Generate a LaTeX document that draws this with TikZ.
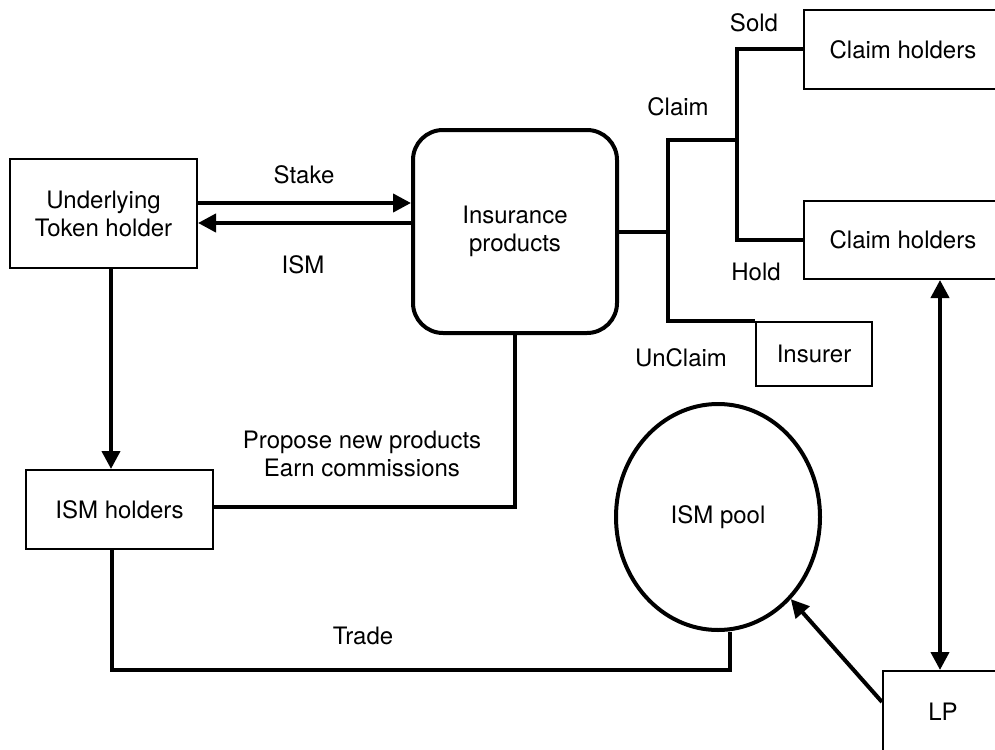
\documentclass[tikz,border=0pt]{standalone}
\usepackage{fontspec}
\setmainfont{TeX Gyre Heros}
\usetikzlibrary{shapes.geometric,arrows.meta}
\tikzstyle{party}=[rectangle, draw, line width=1pt, inner sep=0pt, align=center]
\tikzstyle{product}=[rectangle, draw, rounded corners=15pt, line width=2pt, inner sep=0pt, align=center, minimum width=102pt, minimum height=101.5pt]
\tikzstyle{poolshape}=[ellipse, draw, line width=2pt, inner sep=0pt, minimum width=102pt, minimum height=113pt]
\tikzstyle{link}=[line width=2pt]
\tikzstyle{flow}=[line width=2pt, -{Triangle[length=9pt,width=9pt]}]
\tikzstyle{both}=[line width=2pt, {Triangle[length=9pt,width=9pt]}-{Triangle[length=9pt,width=9pt]}]
\tikzstyle{tag}=[inner sep=0pt, align=center]

\begin{document}
\begin{tikzpicture}[x=0.5pt, y=-0.5pt, font=\fontsize{12}{14}\selectfont]
                    \useasboundingbox (0,0) rectangle (995,749);
                    \clip (0,0) rectangle (995,749);
                    \node[party, minimum width=93.5pt, minimum height=54.5pt] (ut) at (103.5, 213.5) {Underlying\\Token holder};
                    \node[party, minimum width=93.5pt, minimum height=39.5pt] (ism) at (119.5, 509.5) {ISM holders};
                    \node[product] (ip) at (515, 231.5) {Insurance\\products};
                    \node[party, minimum width=99pt, minimum height=39.5pt] (ch1) at (903, 49.5) {Claim holders};
                    \node[party, minimum width=99pt, minimum height=39pt] (ch2) at (903, 240) {Claim holders};
                    \node[party, minimum width=58pt, minimum height=32pt] (ins) at (814, 354) {Insurer};
                    \node[poolshape] (pool) at (718, 517) {ISM pool};
                    \node[party, minimum width=60pt, minimum height=41pt] (lp) at (943, 712) {LP};
                    \node[tag] (stk) at (304, 175) {Stake};
                    \node[tag] (ismt) at (303, 265) {ISM};
                    \node[tag] (clm) at (678, 107) {Claim};
                    \node[tag] (sld) at (754, 23) {Sold};
                    \node[tag] (hld) at (756, 272) {Hold};
                    \node[tag] (ucl) at (681, 358) {UnClaim};
                    \node[tag] (prp) at (362, 454) {Propose new products\\Earn commissions};
                    \node[tag] (trl) at (363, 636) {Trade};
                    \coordinate (c1) at (668, 140);
                    \coordinate (c2) at (737, 140);
                    \coordinate (trd) at (730, 670);
                    \draw[flow] (ut.east |- 0,203)--(ip.west |- 0,203);
                    \draw[flow] (ip.west |- 0,223)--(ut.east |- 0,223);
                    \draw[flow] (ut.south -| 111,0)--(ism.north -| 111,0);
                    \draw[link] (ism.east |- 0,507) -| (ip.south);
                    \draw[link] (ism.south -| 112,0) |- (trd)--(pool.south -| trd);
                    \draw[link] (ip.east |- 0,232)--(c1 |- 0,232);
                    \draw[link] (ins.north west) -| (c1)--(c2);
                    \draw[link] (ch2.west) -| (c2) |- (ch1.west);
                    \draw[both] (ch2.south -| 940,0)--(lp.north -| 940,0);
                    \draw[flow] (lp.west |- 0,702)--(pool);
                \end{tikzpicture}
\end{document}
